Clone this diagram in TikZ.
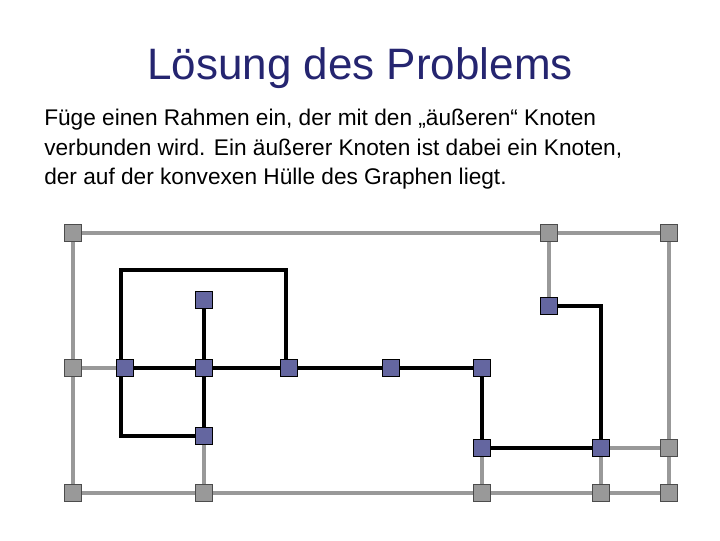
\documentclass[tikz,border=0pt]{standalone}
\usepackage{fontspec}
\setmainfont{Liberation Sans}
\definecolor{titleblue}{HTML}{252570}
\definecolor{nblue}{HTML}{6466A0}
\definecolor{ngray}{HTML}{999999}
\begin{document}
\begin{tikzpicture}[x=0.75pt,y=-0.75pt,
  bn/.style={draw=black,fill=nblue,minimum size=12.5pt,inner sep=0pt,line width=0.5pt},
  gn/.style={draw=black!70,fill=ngray,minimum size=12.5pt,inner sep=0pt,line width=0.5pt},
  be/.style={line width=2.4pt,black},
  ge/.style={line width=2.4pt,ngray}]
\useasboundingbox (0,0) rectangle (720,540);
\node[titleblue,font=\fontsize{33}{37}\selectfont] (title) at (360,68) {Lösung des Problems};
\node[anchor=north west,align=left,font=\fontsize{17}{22}\selectfont,inner sep=0pt] (txt) at (44,109)
 {Füge einen Rahmen ein, der mit den „äußeren“ Knoten\\verbunden wird. Ein äußerer Knoten ist dabei ein Knoten,\\der auf der konvexen Hülle des Graphen liegt.};
\coordinate (g1) at (73,233); \coordinate (g2) at (549,233); \coordinate (g3) at (669,233);
\coordinate (g4) at (73,368); \coordinate (g5) at (73,493); \coordinate (g6) at (204,493);
\coordinate (g7) at (482,493); \coordinate (g8) at (601,493); \coordinate (g9) at (669,493);
\coordinate (g10) at (669,448);
\coordinate (b1) at (204,300); \coordinate (b2) at (125,368); \coordinate (b3) at (204,368);
\coordinate (b4) at (289,368); \coordinate (b5) at (391,368); \coordinate (b6) at (482,368);
\coordinate (b7) at (549,306); \coordinate (b8) at (204,436); \coordinate (b9) at (482,448);
\coordinate (b10) at (601,448);
\draw[ge] (g1) -- (g3) -- (g9) -- (g5) -- cycle;
\draw[ge] (g2) -- (b7);
\draw[ge] (g4) -- (b2);
\draw[ge] (b8) -- (g6);
\draw[ge] (b9) -- (g7);
\draw[ge] (b10) -- (g8);
\draw[ge] (b10) -- (g10);
\draw[be] (b2) -- (b6);
\draw[be] (b1) -- (b8);
\draw[be] (121,368) -- (121,270) -- (286,270) -- (286,368);
\draw[be] (121,368) -- (121,436) -- (b8);
\draw[be] (b6) -- (b9) -- (b10);
\draw[be] (b10) -- (601,306) -- (b7);
\foreach \g in {g1,g2,g3,g4,g5,g6,g7,g8,g9,g10} \node[gn] (n\g) at (\g) {};
\foreach \b in {b1,b2,b3,b4,b5,b6,b7,b8,b9,b10} \node[bn] (n\b) at (\b) {};
\end{tikzpicture}
\end{document}
